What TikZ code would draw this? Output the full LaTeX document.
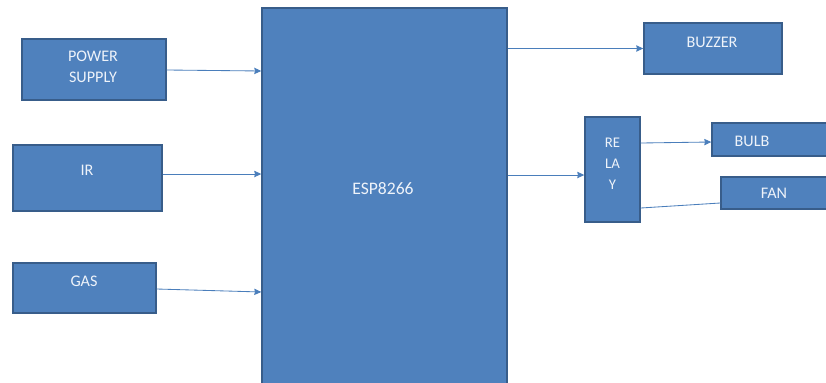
\documentclass[tikz,border=0pt]{standalone}
\usepackage{fontspec}
\setmainfont{Carlito}
\usetikzlibrary{positioning, arrows.meta}

\definecolor{boxblue}{RGB}{79,129,189}
\definecolor{boxedge}{RGB}{56,93,138}
\definecolor{wireblue}{RGB}{74,126,187}
\definecolor{labelwhite}{RGB}{238,243,250}

\newlength\px
\setlength\px{0.025cm}

\tikzset{
  block/.style={rectangle, fill=boxblue, draw=boxedge, line width=1pt, inner sep=0pt},
  blocktext/.style={text=labelwhite, align=center, font=\fontsize{11.5}{14.5}\selectfont},
  wire/.style={wireblue, line width=0.6pt},
  tip/.style={-{Stealth[length=5pt, width=4.5pt, inset=0.5pt]}},
}

\begin{document}
\begin{tikzpicture}[x=0.025cm, y=-0.025cm]

  \useasboundingbox (0,0) rectangle (826,382);
  \clip (0,0) rectangle (826,382);

  %% ---- Controller ----
  \node[block, minimum width=245\px, minimum height=384\px] (esp) at (384.5,200) {};
  \node[blocktext, font=\fontsize{12.5}{14}\selectfont] (esp-t) at (383,189) {ESP8266};

  %% ---- Inputs ----
  \node[block, minimum width=144\px, minimum height=61\px] (power) at (94,69.5) {};
  \node[blocktext] (power-t) at (93,67) {POWER\\SUPPLY};

  \node[block, minimum width=149\px, minimum height=66\px] (ir) at (87.5,178) {};
  \node[blocktext] (ir-t) at (87,170) {IR};

  \node[block, minimum width=143\px, minimum height=50\px] (gas) at (84.5,288) {};
  \node[blocktext] (gas-t) at (84,281) {GAS};

  %% ---- Outputs ----
  \node[block, minimum width=138\px, minimum height=51\px] (buzzer) at (713,48.5) {};
  \node[blocktext] (buzzer-t) at (712,42) {BUZZER};

  \node[block, minimum width=55\px, minimum height=105\px] (relay) at (612.5,169.5) {};
  \node[blocktext, font=\fontsize{10.5}{15}\selectfont] (relay-t) at (612.5,164) {RE\\LA\\Y};

  \node[block, minimum width=133\px, minimum height=33\px] (bulb) at (778.5,139.5) {};
  \node[blocktext] (bulb-t) at (752,141) {BULB};

  \node[block, minimum width=124\px, minimum height=32\px] (fan) at (783,193) {};
  \node[blocktext] (fan-t) at (774,193) {FAN};

  %% ---- Connections ----
  \draw[wire, tip] (power.east |- 0,70) -- (esp.west |- 0,71);
  \draw[wire, tip] (ir.east |- 0,174) -- (esp.west |- 0,174);
  \draw[wire, tip] (gas.east |- 0,289) -- (esp.west |- 0,292);

  \draw[wire, tip] (esp.east |- buzzer.west) -- (buzzer.west);
  \draw[wire, tip] (esp.east |- 0,175) -- (relay.west |- 0,175);

  \draw[wire, tip] (relay.east |- 0,143) -- (bulb.west |- 0,142);
  \draw[wire] (relay.east |- 0,208) -- (fan.west |- 0,203);

\end{tikzpicture}
\end{document}
